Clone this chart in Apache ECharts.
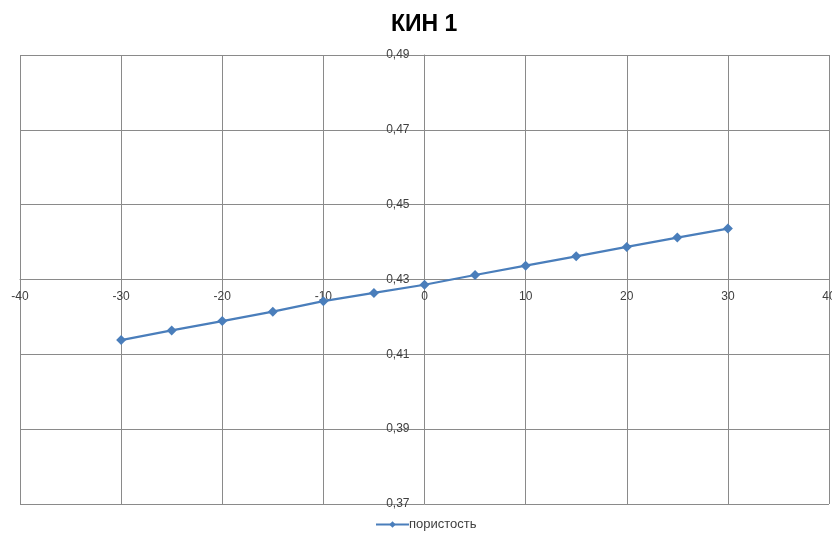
<!DOCTYPE html>
<html>
<head>
<meta charset="utf-8">
<script src="https://cdn.jsdelivr.net/npm/echarts@6/dist/echarts.min.js"></script>
<style>
  html, body { margin: 0; padding: 0; background: #fff; }
  #chart { width: 832px; height: 537px; }
</style>
</head>
<body>
<div id="chart"></div>
<script>
// Temperature offsets and porosity values
const xValues = [-30, -25, -20, -15, -10, -5, 0, 5, 10, 15, 20, 25, 30];
const porosity = [0.4138, 0.4164, 0.4189, 0.4214, 0.4242, 0.4264, 0.4286, 0.4312, 0.4337, 0.4362, 0.4387, 0.4412, 0.4436];

const seriesName = 'пористость';
const chartTitle = 'КИН 1';

// Axis ranges and the point where the two axes cross
const xMin = -40, xMax = 40, xStep = 10;
const yMin = 0.37, yMax = 0.49, yStep = 0.02;
const xCross = 0;      // vertical axis sits at this x
const yCross = 0.43;   // horizontal axis sits at this y

const gridColor = '#8a8a8a';
const labelColor = '#404040';
const font = 'Liberation Sans, Arial, sans-serif';

// Plot box
const W = 832, H = 537;
const box = { left: 20, right: 3, top: 55, bottom: 33 };
const plotW = W - box.left - box.right;
const plotH = H - box.top - box.bottom;

// Helper grids whose edges fall on the crossing lines, so that
// the crossing axes (with their labels) are drawn there.
const xAxisGridBottom = box.bottom + plotH * (yCross - yMin) / (yMax - yMin);
const yAxisGridLeft = box.left + plotW * (xCross - xMin) / (xMax - xMin);

const fmtY = v => v.toFixed(2).replace('.', ',');

const hiddenAxis = {
  show: true,
  axisLine: { show: false },
  axisTick: { show: false },
  axisLabel: { show: false },
  splitLine: { show: false }
};

const chart = echarts.init(document.getElementById('chart'), null, { renderer: 'canvas' });

chart.setOption({
  animation: false,
  backgroundColor: '#ffffff',
  title: {
    text: chartTitle,
    left: 386,
    top: 8,
    textStyle: { fontFamily: font, fontWeight: 'bold', fontSize: 23, color: '#000' }
  },
  legend: {
    bottom: 6,
    left: 375,
    padding: 0,
    itemWidth: 33,
    itemHeight: 8,
    itemGap: 2,
    textStyle: { fontFamily: font, fontSize: 13, color: labelColor, padding: [0, 0, 0, -5] },
    data: [seriesName]
  },
  grid: [
    { left: box.left, right: box.right, top: box.top, bottom: box.bottom, outerBoundsMode: 'none', containLabel: false },
    { left: box.left, right: box.right, top: box.top, bottom: xAxisGridBottom, outerBoundsMode: 'none', containLabel: false },
    { left: yAxisGridLeft, right: box.right, top: box.top, bottom: box.bottom, outerBoundsMode: 'none', containLabel: false }
  ],
  xAxis: [
    {
      gridIndex: 0, type: 'value', min: xMin, max: xMax, interval: xStep,
      axisLine: { show: false }, axisTick: { show: false }, axisLabel: { show: false },
      splitLine: { show: true, lineStyle: { color: gridColor, width: 1 } }
    },
    {
      gridIndex: 1, type: 'value', min: xMin, max: xMax, interval: xStep, position: 'bottom',
      axisLine: { show: true, onZero: false, lineStyle: { color: gridColor, width: 1 } },
      axisTick: { show: false },
      axisLabel: { color: labelColor, fontFamily: font, fontSize: 12, margin: 11 },
      splitLine: { show: false }
    },
    Object.assign({ gridIndex: 2, type: 'value', min: xCross, max: xMax }, hiddenAxis)
  ],
  yAxis: [
    {
      gridIndex: 0, type: 'value', min: yMin, max: yMax, interval: yStep,
      axisLine: { show: false }, axisTick: { show: false }, axisLabel: { show: false },
      splitLine: { show: true, lineStyle: { color: gridColor, width: 1 } }
    },
    Object.assign({ gridIndex: 1, type: 'value', min: yCross, max: yMax }, hiddenAxis),
    {
      gridIndex: 2, type: 'value', min: yMin, max: yMax, interval: yStep, position: 'left',
      axisLine: { show: true, onZero: false, lineStyle: { color: gridColor, width: 1 } },
      axisTick: { show: false },
      axisLabel: { color: labelColor, fontFamily: font, fontSize: 12, margin: 15, padding: [0, 0, 5, 0], formatter: fmtY },
      splitLine: { show: false }
    }
  ],
  series: [{
    name: seriesName,
    type: 'line',
    xAxisIndex: 0,
    yAxisIndex: 0,
    data: xValues.map((x, i) => [x, porosity[i]]),
    symbol: 'diamond',
    symbolSize: 10,
    lineStyle: { color: '#4a7ebb', width: 2.25 },
    itemStyle: { color: '#4a7ebb' },
    z: 5
  }]
});
</script>
</body>
</html>
